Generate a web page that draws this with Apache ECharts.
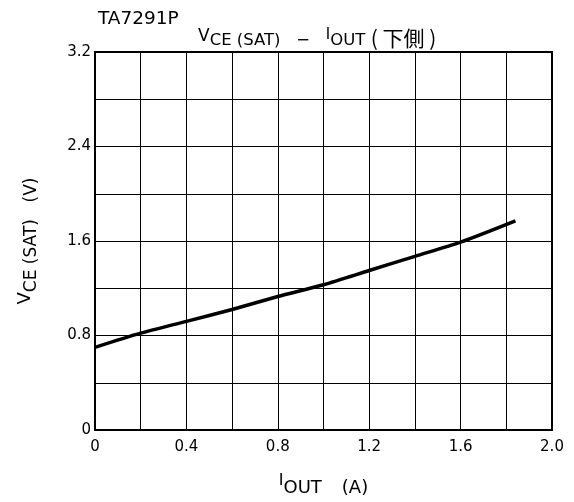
<!DOCTYPE html>
<html>
<head>
<meta charset="utf-8">
<script src="https://cdn.jsdelivr.net/npm/echarts@6/dist/echarts.min.js"></script>
<style>html,body{margin:0;padding:0;background:#fff;}#c{width:574px;height:502px;}</style>
</head>
<body>
<div id="c"></div>
<script>
const currentA = [0, 0.2, 0.4, 0.6, 0.8, 1.0, 1.2, 1.4, 1.6, 1.84];
const vceSat   = [0.70, 0.82, 0.92, 1.02, 1.13, 1.23, 1.35, 1.47, 1.59, 1.77];
const xTickLabels = ['0', '0.4', '0.8', '1.2', '1.6', '2.0'];
const yTickLabels = ['0', '0.8', '1.6', '2.4', '3.2'];
const partName = 'TA7291P';

const font = '"DejaVu Sans", "Noto Sans CJK JP", sans-serif';
const cjk = '"Noto Sans CJK JP", sans-serif';
const chart = echarts.init(document.getElementById('c'), null, {renderer: 'canvas'});
chart.setOption({
  backgroundColor: '#fff',
  animation: false,
  title: [
    {text: partName, left: 93, top: 5, textStyle: {fontFamily: font, fontSize: 18.5, fontWeight: 'normal', color: '#000'}},
    {
      text: '{v|V}{s|CE (SAT)   −   }{i|I}{s|OUT }{c|( 下側 )}',
      left: 193, top: 23,
      textStyle: {
        fontFamily: font, fontWeight: 'normal', color: '#000',
        rich: {
          v: {fontSize: 17, fontFamily: font, color: '#000', verticalAlign: 'top', lineHeight: 21},
          i: {fontSize: 15, fontFamily: font, color: '#000', verticalAlign: 'top', lineHeight: 21},
          s: {fontSize: 16.5, fontFamily: font, color: '#000', verticalAlign: 'bottom', lineHeight: 21},
          c: {fontSize: 21, fontFamily: cjk, color: '#000', verticalAlign: 'bottom', lineHeight: 21}
        }
      }
    }
  ],
  grid: {left: 95, right: 22, top: 52, bottom: 70, show: true, borderColor: '#000', borderWidth: 2, backgroundColor: 'transparent'},
  xAxis: {
    type: 'value', min: 0, max: 2.0, interval: 0.2,
    name: '{i|I}{s|OUT}      {n|(A)}', nameLocation: 'middle', nameGap: 43,
    nameTextStyle: {
      rich: {
        i: {fontSize: 16, fontFamily: font, color: '#000', verticalAlign: 'top', lineHeight: 24},
        s: {fontSize: 18, fontFamily: font, color: '#000', verticalAlign: 'bottom', lineHeight: 24},
        n: {fontSize: 18, fontFamily: font, color: '#000', verticalAlign: 'bottom', lineHeight: 24}
      }
    },
    axisLine: {show: true, lineStyle: {color: '#000', width: 2}},
    axisTick: {show: false},
    splitLine: {show: true, lineStyle: {color: '#000', width: 1}},
    axisLabel: {
      fontFamily: font, fontSize: 15, color: '#000', margin: 10,
      formatter: function (v) {
        const k = Math.round(v / 0.4 * 1000) / 1000;
        if (Math.abs(k - Math.round(k)) < 1e-6) return xTickLabels[Math.round(k)];
        return '';
      }
    }
  },
  yAxis: {
    type: 'value', min: 0, max: 3.2, interval: 0.4,
    name: '{v|V}{s|CE (SAT)}     {n|(V)}', nameLocation: 'middle', nameGap: 55, nameRotate: 90,
    nameTextStyle: {
      rich: {
        v: {fontSize: 18, fontFamily: font, color: '#000', verticalAlign: 'top', lineHeight: 24},
        s: {fontSize: 17, fontFamily: font, color: '#000', verticalAlign: 'bottom', lineHeight: 24},
        n: {fontSize: 17, fontFamily: font, color: '#000', verticalAlign: 'bottom', lineHeight: 24}
      }
    },
    axisLine: {show: true, lineStyle: {color: '#000', width: 2}},
    axisTick: {show: false},
    splitLine: {show: true, lineStyle: {color: '#000', width: 1}},
    axisLabel: {
      fontFamily: font, fontSize: 15, color: '#000', margin: 4,
      formatter: function (v) {
        const k = Math.round(v / 0.8 * 1000) / 1000;
        if (Math.abs(k - Math.round(k)) < 1e-6) return yTickLabels[Math.round(k)];
        return '';
      }
    }
  },
  series: [{
    type: 'line',
    data: currentA.map((x, i) => [x, vceSat[i]]),
    smooth: 0.25,
    showSymbol: false,
    lineStyle: {color: '#000', width: 3.5},
    silent: true
  }]
});
</script>
</body>
</html>
